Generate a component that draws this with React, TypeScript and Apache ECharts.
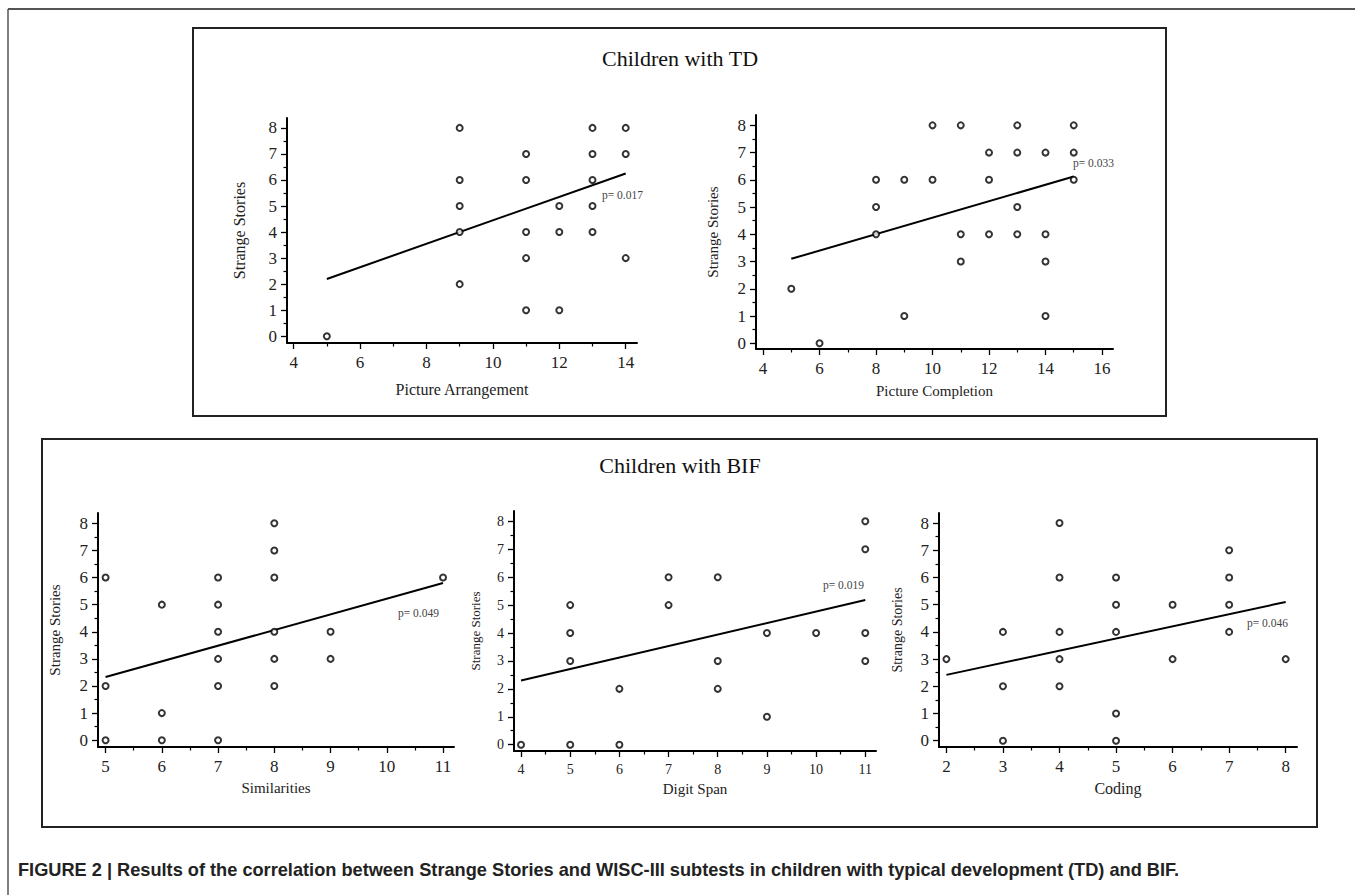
import React, { useEffect, useRef } from "react";
import * as echarts from "echarts";

// ---------- data ----------
const pictureArrangement: number[][] = [
  [5, 0], [9, 8], [9, 6], [9, 5], [9, 4], [9, 2],
  [11, 7], [11, 6], [11, 4], [11, 3], [11, 1],
  [12, 5], [12, 4], [12, 1],
  [13, 8], [13, 7], [13, 6], [13, 5], [13, 4],
  [14, 8], [14, 7], [14, 3],
];
const pictureArrangementFit: number[][] = [[5, 2.2], [14, 6.25]];

const pictureCompletion: number[][] = [
  [5, 2], [6, 0], [8, 6], [8, 5], [8, 4], [9, 6], [9, 1],
  [10, 8], [10, 6], [11, 8], [11, 4], [11, 3],
  [12, 7], [12, 6], [12, 4], [13, 8], [13, 7], [13, 5], [13, 4],
  [14, 7], [14, 4], [14, 3], [14, 1], [15, 8], [15, 7], [15, 6],
];
const pictureCompletionFit: number[][] = [[5, 3.1], [15, 6.12]];

const similarities: number[][] = [
  [5, 6], [5, 2], [5, 0], [6, 5], [6, 1], [6, 0],
  [7, 6], [7, 5], [7, 4], [7, 3], [7, 2], [7, 0],
  [8, 8], [8, 7], [8, 6], [8, 4], [8, 3], [8, 2],
  [9, 4], [9, 3], [11, 6],
];
const similaritiesFit: number[][] = [[5, 2.33], [11, 5.8]];

const digitSpan: number[][] = [
  [4, 0], [5, 5], [5, 4], [5, 3], [5, 0], [6, 2], [6, 0],
  [7, 6], [7, 5], [8, 6], [8, 3], [8, 2], [9, 4], [9, 1],
  [10, 4], [11, 8], [11, 7], [11, 4], [11, 3],
];
const digitSpanFit: number[][] = [[4, 2.3], [11, 5.18]];

const coding: number[][] = [
  [2, 3], [3, 4], [3, 2], [3, 0], [4, 8], [4, 6], [4, 4], [4, 3], [4, 2],
  [5, 6], [5, 5], [5, 4], [5, 1], [5, 0], [6, 5], [6, 3],
  [7, 7], [7, 6], [7, 5], [7, 4], [8, 3],
];
const codingFit: number[][] = [[2, 2.42], [8, 5.1]];

const yTicks = [0, 1, 2, 3, 4, 5, 6, 7, 8];
const yMinorTicks = [0.5, 1.5, 2.5, 3.5, 4.5, 5.5, 6.5, 7.5];
const paTicks = [4, 6, 8, 10, 12, 14];
const paMinor = [5, 7, 9, 11, 13];
const pcTicks = [4, 6, 8, 10, 12, 14, 16];
const pcMinor = [5, 7, 9, 11, 13, 15];
const simTicks = [5, 6, 7, 8, 9, 10, 11];
const simMinor = [5.5, 6.5, 7.5, 8.5, 9.5, 10.5];
const dsTicks = [4, 5, 6, 7, 8, 9, 10, 11];
const dsMinor = [4.5, 5.5, 6.5, 7.5, 8.5, 9.5, 10.5];
const cdTicks = [2, 3, 4, 5, 6, 7, 8];
const cdMinor = [2.5, 3.5, 4.5, 5.5, 6.5, 7.5];

const pValues = ["p= 0.017", "p= 0.033", "p= 0.049", "p= 0.019", "p= 0.046"];
const xNames = ["Picture Arrangement", "Picture Completion", "Similarities", "Digit Span", "Coding"];
const yName = "Strange Stories";
const groupTitles = ["Children with TD", "Children with BIF"];
const caption =
  "FIGURE 2 | Results of the correlation between Strange Stories and WISC-III subtests in children with typical development (TD) and BIF.";

const SERIF = "'Liberation Serif', 'Times New Roman', serif";

export default function App() {
  const ref = useRef<HTMLDivElement>(null);

  useEffect(() => {
    if (!ref.current) return;
    const chart = echarts.init(ref.current, null, { renderer: "svg" });

    const panels = [
      { pts: pictureArrangement, fit: pictureArrangementFit, ticks: paTicks, minor: paMinor,
        left: 287, top: 118, width: 350, height: 225, xmin: 3.8, xmax: 14.34, ymin: -0.26, ymax: 8.38,
        tickFont: 17, yNameFont: 16, xNameFont: 16, yGap: 40, xGap: 38, pPos: [602, 189] },
      { pts: pictureCompletion, fit: pictureCompletionFit, ticks: pcTicks, minor: pcMinor,
        left: 756, top: 115, width: 357, height: 234, xmin: 3.75, xmax: 16.39, ymin: -0.21, ymax: 8.38,
        tickFont: 17, yNameFont: 15, xNameFont: 15, yGap: 35.5, xGap: 34.5, pPos: [1073, 157] },
      { pts: similarities, fit: similaritiesFit, ticks: simTicks, minor: simMinor,
        left: 98, top: 513, width: 356, height: 234, xmin: 4.865, xmax: 11.195, ymin: -0.25, ymax: 8.38,
        tickFont: 17, yNameFont: 15, xNameFont: 15, yGap: 35.5, xGap: 33.5, pPos: [398, 607] },
      { pts: digitSpan, fit: digitSpanFit, ticks: dsTicks, minor: dsMinor,
        left: 514, top: 511, width: 362, height: 240, xmin: 3.857, xmax: 11.218, ymin: -0.226, ymax: 8.37,
        tickFont: 14, yNameFont: 13, xNameFont: 15, yGap: 32.5, xGap: 30.5, pPos: [823, 579] },
      { pts: coding, fit: codingFit, ticks: cdTicks, minor: cdMinor,
        left: 939, top: 513, width: 358, height: 234, xmin: 1.869, xmax: 8.2, ymin: -0.23, ymax: 8.37,
        tickFont: 17, yNameFont: 14, xNameFont: 16, yGap: 35, xGap: 33.7, pPos: [1247, 617] },
    ];

    const grid: any[] = [];
    const xAxis: any[] = [];
    const yAxis: any[] = [];
    const series: any[] = [];
    const graphic: any[] = [];

    panels.forEach((p, i) => {
      grid.push({ left: p.left, top: p.top, width: p.width, height: p.height });
      xAxis.push({
        type: "value", gridIndex: i, min: p.xmin, max: p.xmax,
        axisLine: { show: true, onZero: false, lineStyle: { color: "#000", width: 2 } },
        axisTick: { show: true, customValues: p.ticks, length: 6, lineStyle: { color: "#000", width: 1.3 } },
        axisLabel: { customValues: p.ticks, fontSize: p.tickFont, color: "#222", fontFamily: SERIF, margin: 11 },
        splitLine: { show: false },
        name: xNames[i], nameLocation: "middle", nameGap: p.xGap,
        nameTextStyle: { fontSize: p.xNameFont, color: "#222", fontFamily: SERIF },
      });
      xAxis.push({
        type: "value", gridIndex: i, min: p.xmin, max: p.xmax, position: "bottom",
        axisLine: { show: false, onZero: false },
        axisTick: { show: true, customValues: p.minor, length: 3.5, lineStyle: { color: "#000", width: 1.2 } },
        axisLabel: { show: false },
        splitLine: { show: false },
      });
      yAxis.push({
        type: "value", gridIndex: i, min: p.ymin, max: p.ymax,
        axisLine: { show: true, onZero: false, lineStyle: { color: "#000", width: 2 } },
        axisTick: { show: true, customValues: yTicks, length: 6, lineStyle: { color: "#000", width: 1.3 } },
        axisLabel: { customValues: yTicks, fontSize: p.tickFont, color: "#222", fontFamily: SERIF, margin: 10 },
        splitLine: { show: false },
        name: yName, nameLocation: "middle", nameGap: p.yGap, nameRotate: 90,
        nameTextStyle: { fontSize: p.yNameFont, color: "#222", fontFamily: SERIF },
      });
      yAxis.push({
        type: "value", gridIndex: i, min: p.ymin, max: p.ymax, position: "left",
        axisLine: { show: false, onZero: false },
        axisTick: { show: true, customValues: yMinorTicks, length: 3.5, lineStyle: { color: "#000", width: 1.2 } },
        axisLabel: { show: false },
        splitLine: { show: false },
      });
      series.push({
        type: "scatter", xAxisIndex: 2 * i, yAxisIndex: 2 * i, data: p.pts,
        symbol: "emptyCircle", symbolSize: 6,
        itemStyle: { color: "#000", borderColor: "#000", borderWidth: 1.8 },
        z: 3,
      });
      series.push({
        type: "line", xAxisIndex: 2 * i, yAxisIndex: 2 * i, data: p.fit,
        symbol: "none", lineStyle: { color: "#000", width: 2 }, z: 2,
      });
      graphic.push({
        type: "text", left: p.pPos[0], top: p.pPos[1],
        style: { text: pValues[i], fontSize: 11.5, fill: "#444", fontFamily: SERIF },
      });
    });

    // frames
    graphic.push({ type: "line", shape: { x1: 8, y1: 9, x2: 1355, y2: 9 }, style: { stroke: "#555", lineWidth: 2 } });
    graphic.push({ type: "line", shape: { x1: 8, y1: 9, x2: 8, y2: 895 }, style: { stroke: "#555", lineWidth: 1.5 } });
    graphic.push({ type: "rect", shape: { x: 193, y: 28, width: 973, height: 388 }, style: { fill: "none", stroke: "#222", lineWidth: 2 } });
    graphic.push({ type: "rect", shape: { x: 42, y: 439, width: 1275, height: 388 }, style: { fill: "none", stroke: "#222", lineWidth: 2 } });
    graphic.push({
      type: "text", x: 680, y: 58,
      style: { text: groupTitles[0], fontSize: 22, fill: "#111", fontFamily: SERIF, align: "center", verticalAlign: "middle" },
    });
    graphic.push({
      type: "text", x: 680, y: 465,
      style: { text: groupTitles[1], fontSize: 22, fill: "#111", fontFamily: SERIF, align: "center", verticalAlign: "middle" },
    });
    graphic.push({
      type: "text", x: 18, y: 870,
      style: {
        text: caption, fontSize: 18.2, fontWeight: "bold", fill: "#222",
        fontFamily: "'Liberation Sans', Arial, sans-serif", verticalAlign: "middle",
      },
    });

    chart.setOption({ animation: false, grid, xAxis, yAxis, series, graphic });
    return () => chart.dispose();
  }, []);

  return (
    <div
      ref={ref}
      style={{ position: "fixed", left: 0, top: 0, width: 1355, height: 895, background: "#fff" }}
    />
  );
}
